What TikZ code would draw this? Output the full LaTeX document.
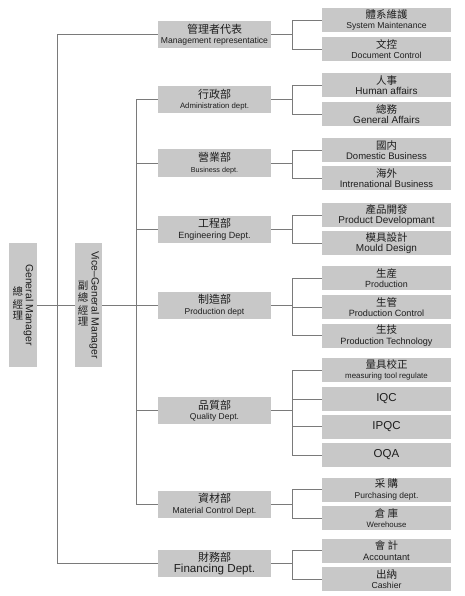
\documentclass[tikz,border=0pt]{standalone}
\usepackage{fontspec}
\usepackage{graphicx}
\setmainfont{Liberation Sans}
\newfontfamily\cjk{Noto Sans CJK TC}
\definecolor{boxgray}{HTML}{C8C8C8}
\definecolor{linegray}{HTML}{7A7A7A}
\definecolor{txt}{HTML}{1E1E1E}
\newcommand\zh[2]{{\cjk\fontsize{#1}{#1}\selectfont #2}}
\newcommand\en[2]{{\fontsize{#1}{#1}\selectfont #2}}
\newcommand\two[4]{\zh{#1}{#2}\\[-1.5pt]\en{#3}{#4}}
\newcommand\vc[1]{$\vcenter{\hbox{#1}}$}
\newcommand\zhcol[1]{{\cjk\fontsize{10.5}{10.8}\selectfont\begin{tabular}{@{}c@{}}#1\end{tabular}}}
\begin{document}
\begin{tikzpicture}[x=1pt,y=-1pt,
  box/.style={fill=boxgray, draw=none, inner sep=0pt, align=center, text=txt},
  midbox/.style={box, minimum width=113pt, minimum height=27pt},
  leafbox/.style={box, minimum width=129pt, minimum height=24pt},
  sidebox/.style={box, minimum width=28pt, minimum height=124pt},
  link/.style={draw=linegray, line width=0.8pt}]
\useasboundingbox (0,0) rectangle (464,596);

% left boxes
\node[sidebox] (gm) at (23,305) {\vc{\zhcol{總\\經\\理}}\hspace{0.5pt}\vc{\rotatebox{-90}{\en{10.5}{General Manager}}}};
\node[sidebox, minimum width=27pt] (vgm) at (88.5,305) {\vc{\zhcol{副\\總\\經\\理}}\hspace{1pt}\vc{\rotatebox{-90}{\en{10.5}{Vice--General Manager}}}};

% middle boxes
\node[midbox] (mgr) at (214.5,34.5) {\two{11}{管理者代表}{8.6}{Management representatice}};
\node[midbox] (adm) at (214.5,99.5) {\two{11}{行政部}{7.8}{Administration dept.}};
\node[midbox] (bus) at (214.5,163) {\two{11}{營業部}{7.2}{Business dept.}};
\node[midbox] (eng) at (214.5,229.5) {\two{11}{工程部}{9}{Engineering Dept.}};
\node[midbox] (prd) at (214.5,305) {\two{11}{制造部}{8.5}{Production dept}};
\node[midbox] (qua) at (214.5,410.5) {\two{11}{品質部}{8.5}{Quality Dept.}};
\node[midbox] (mat) at (214.5,504) {\two{11}{資材部}{8.6}{Material Control Dept.}};
\node[midbox] (fin) at (214.5,563.5) {\two{11}{財務部}{11.6}{Financing Dept.}};

% leaf boxes
\node[leafbox] (l1) at (386.5,20) {\two{10.5}{體系維護}{8.6}{System Maintenance}};
\node[leafbox] (l2) at (386.5,49) {\two{10.5}{文控}{8.7}{Document Control}};
\node[leafbox] (l3) at (386.5,85) {\two{10.5}{人事}{10}{Human affairs}};
\node[leafbox] (l4) at (386.5,114) {\two{10.5}{總務}{10}{General Affairs}};
\node[leafbox] (l5) at (386.5,150) {\two{10.5}{國内}{9.5}{Domestic Business}};
\node[leafbox] (l6) at (386.5,178) {\two{10.5}{海外}{9.5}{Intrenational Business}};
\node[leafbox] (l7) at (386.5,215) {\two{10.5}{產品開發}{10}{Product Developmant}};
\node[leafbox] (l8) at (386.5,243) {\two{10.5}{模具設計}{10}{Mould Design}};
\node[leafbox] (l9) at (386.5,278) {\two{10.5}{生産}{8.9}{Production}};
\node[leafbox] (l10) at (386.5,307) {\two{10.5}{生管}{9.1}{Production Control}};
\node[leafbox] (l11) at (386.5,335.5) {\two{10.5}{生技}{9.1}{Production Technology}};
\node[leafbox] (l12) at (386.5,370) {\two{10.5}{量具校正}{7.9}{measuring tool regulate}};
\node[leafbox] (l13) at (386.5,399) {\en{11.5}{IQC}};
\node[leafbox] (l14) at (386.5,426.5) {\en{11.5}{IPQC}};
\node[leafbox] (l15) at (386.5,455) {\en{11.5}{OQA}};
\node[leafbox] (l16) at (386.5,489.5) {\two{10.5}{采 購}{8.5}{Purchasing dept.}};
\node[leafbox] (l17) at (386.5,518) {\two{10.5}{倉 庫}{7.8}{Werehouse}};
\node[leafbox] (l18) at (386.5,550.5) {\two{10.5}{會 計}{9.3}{Accountant}};
\node[leafbox] (l19) at (386.5,579) {\two{10.5}{出納}{8.7}{Cashier}};

% trunks
\coordinate (ta) at (57,0);
\coordinate (tb) at (136,0);
\draw[link] (gm.east) -- (vgm.west);
\draw[link] (vgm.east) -- (prd.west);
\draw[link] (mgr.west) -- (mgr.west -| ta) -- (fin.west -| ta) -- (fin.west);
\draw[link] (adm.west) -- (adm.west -| tb) -- (mat.west -| tb) -- (mat.west);
\foreach \m in {bus,eng,qua} \draw[link] (\m.west) -- (\m.west -| tb);

% branches
\foreach \m/\c in {mgr/l1,mgr/l2,adm/l3,adm/l4,bus/l5,bus/l6,eng/l7,eng/l8,
  prd/l9,prd/l10,prd/l11,qua/l12,qua/l13,qua/l14,qua/l15,mat/l16,mat/l17,fin/l18,fin/l19}
  \draw[link] (\m.east) -- ++(21.5,0) |- (\c.west);
\end{tikzpicture}
\end{document}
